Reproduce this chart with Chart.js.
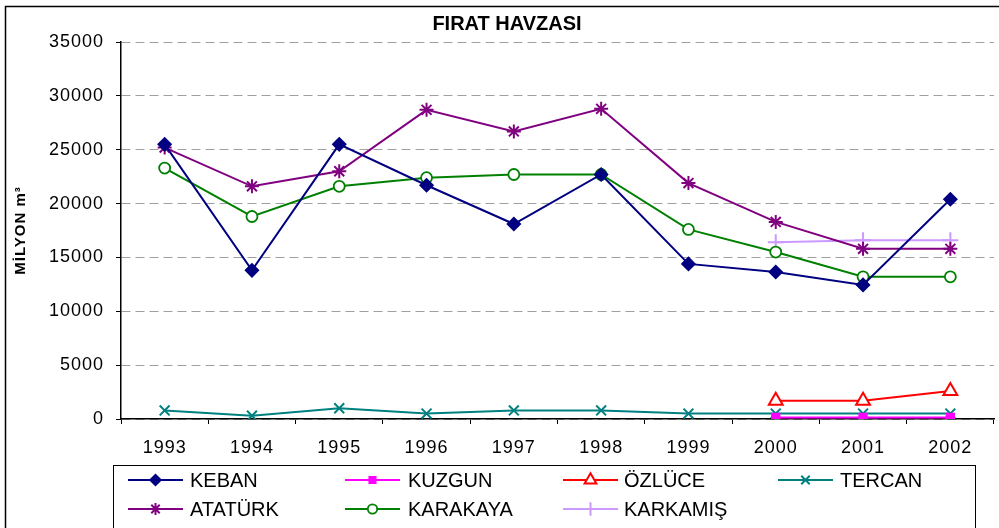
<!DOCTYPE html>
<html>
<head>
<meta charset="utf-8">
<script src="https://cdn.jsdelivr.net/npm/chart.js@4.4.0/dist/chart.umd.min.js"></script>
<style>
html,body{margin:0;padding:0;background:#fff;overflow:hidden;}
#wrap{position:relative;width:1004px;height:528px;}
</style>
</head>
<body>
<div id="wrap"><canvas id="c" width="1004" height="528"></canvas></div>
<script>
const years = ['1993','1994','1995','1996','1997','1998','1999','2000','2001','2002'];
const keban    = [25500, 13800, 25500, 21700, 18100, 22700, 14400, 13650, 12450, 20400];
const kuzgun   = [null, null, null, null, null, null, null, 150, 150, 150];
const ozluce   = [null, null, null, null, null, null, null, 1700, 1700, 2600];
const tercan   = [800, 300, 1000, 500, 800, 800, 500, 500, 500, 500];
const ataturk  = [25200, 21600, 23000, 28700, 26700, 28800, 21900, 18300, 15800, 15800];
const karakaya = [23300, 18800, 21600, 22400, 22700, 22700, 17600, 15500, 13200, 13200];
const karkamis = [null, null, null, null, null, null, null, 16400, 16600, 16600];
const yTicks = [0, 5000, 10000, 15000, 20000, 25000, 30000, 35000];
const chartTitle = 'FIRAT HAVZASI';
const yTitle = 'MİLYON m³';

const FONT = '"Liberation Sans", Arial, sans-serif';

function ds(label, data, color, style, radius, fill, bw) {
  return {
    label, data,
    borderColor: color, backgroundColor: fill || color,
    pointStyle: style, pointRadius: radius, pointHoverRadius: radius,
    pointBorderColor: color, pointBackgroundColor: fill || color,
    pointBorderWidth: bw || 1.5, borderWidth: 2, tension: 0, spanGaps: false
  };
}

const datasets = [
  ds('KEBAN', keban, '#000080', 'rectRot', 6.5),
  ds('KUZGUN', kuzgun, '#FF00FF', 'rect', 5.5),
  ds('ÖZLÜCE', ozluce, '#FF0000', 'triangle', 8, '#FFFFFF', 2),
  ds('TERCAN', tercan, '#008080', 'crossRot', 7, null, 2),
  ds('ATATÜRK', ataturk, '#800080', 'star', 7, null, 2),
  ds('KARAKAYA', karakaya, '#008000', 'circle', 5.5, '#FFFFFF', 1.8),
  ds('KARKAMIŞ', karkamis, '#CC99FF', 'cross', 8, null, 2)
];
datasets.forEach((d, i) => d.order = i);

const legendCols = [128, 345, 563, 778];
const legendTextX = [190, 408, 624, 840];
const legendRows = [480, 509];

const decor = {
  id: 'decor',
  beforeDraw(chart) {
    const ctx = chart.ctx;
    ctx.save();
    ctx.fillStyle = '#fff';
    ctx.fillRect(0, 0, chart.width, chart.height);
    ctx.strokeStyle = '#000';
    ctx.lineWidth = 1.5;
    ctx.strokeRect(5.5, 6.5, 1100, 600);
    ctx.restore();
    ctx.letterSpacing = '1px';
  },
  afterDraw(chart) {
    const ctx = chart.ctx;
    ctx.save();
    ctx.letterSpacing = '0px';
    ctx.fillStyle = '#000';
    ctx.font = 'bold 20px ' + FONT;
    ctx.textAlign = 'center';
    ctx.textBaseline = 'middle';
    ctx.fillText(chartTitle, 507, 24);
    ctx.strokeStyle = '#000';
    ctx.lineWidth = 1;
    ctx.strokeRect(113.5, 465.5, 862, 100);
    ctx.font = '20px ' + FONT;
    ctx.textAlign = 'left';
    chart.data.datasets.forEach((d, i) => {
      const c = i % 4, r = Math.floor(i / 4);
      const x = legendCols[c], y = legendRows[r];
      ctx.strokeStyle = d.borderColor;
      ctx.lineWidth = 2;
      ctx.beginPath();
      ctx.moveTo(x, y); ctx.lineTo(x + 55, y);
      ctx.stroke();
      ctx.fillStyle = d.pointBackgroundColor;
      ctx.strokeStyle = d.pointBorderColor;
      ctx.lineWidth = d.pointBorderWidth;
      Chart.helpers.drawPoint(ctx, {pointStyle: d.pointStyle, radius: d.pointRadius * 0.85, rotation: 0, borderWidth: d.pointBorderWidth}, x + 27.5, y);
      ctx.fillStyle = '#000';
      ctx.fillText(d.label, legendTextX[c], y + 1);
    });
    ctx.restore();
  }
};

new Chart(document.getElementById('c'), {
  type: 'line',
  data: { labels: years, datasets },
  plugins: [decor],
  options: {
    responsive: false,
    animation: false,
    layout: { padding: { top: 42, right: 1, left: 12, bottom: 0 } },
    plugins: { legend: { display: false }, title: { display: false }, tooltip: { enabled: false } },
    scales: {
      x: {
        offset: true,
        grid: { offset: true, drawOnChartArea: false, drawTicks: true, tickLength: 5, color: '#000', tickColor: '#000' },
        border: { display: true, color: '#000', width: 1.5 },
        ticks: { color: '#000', font: { family: FONT, size: 18 }, padding: 13, maxRotation: 0, autoSkip: false },
        afterFit(s) { s.height = 109; }
      },
      y: {
        min: 0, max: 35000,
        afterBuildTicks(s) { s.ticks = yTicks.map(v => ({ value: v })); },
        grid: { color: '#a0a0a0', tickColor: '#000', tickLength: 5, lineWidth: 1 },
        border: { display: true, color: '#000', width: 1.5, dash: [9, 5] },
        ticks: { color: '#000', font: { family: FONT, size: 18 }, padding: 12, callback: v => String(v) },
        title: { display: true, text: yTitle, color: '#000', font: { family: FONT, size: 15, weight: 'bold' }, padding: { top: 0, bottom: 0 } },
        afterFit(s) { s.width = 109; }
      }
    }
  }
});
</script>
</body>
</html>
